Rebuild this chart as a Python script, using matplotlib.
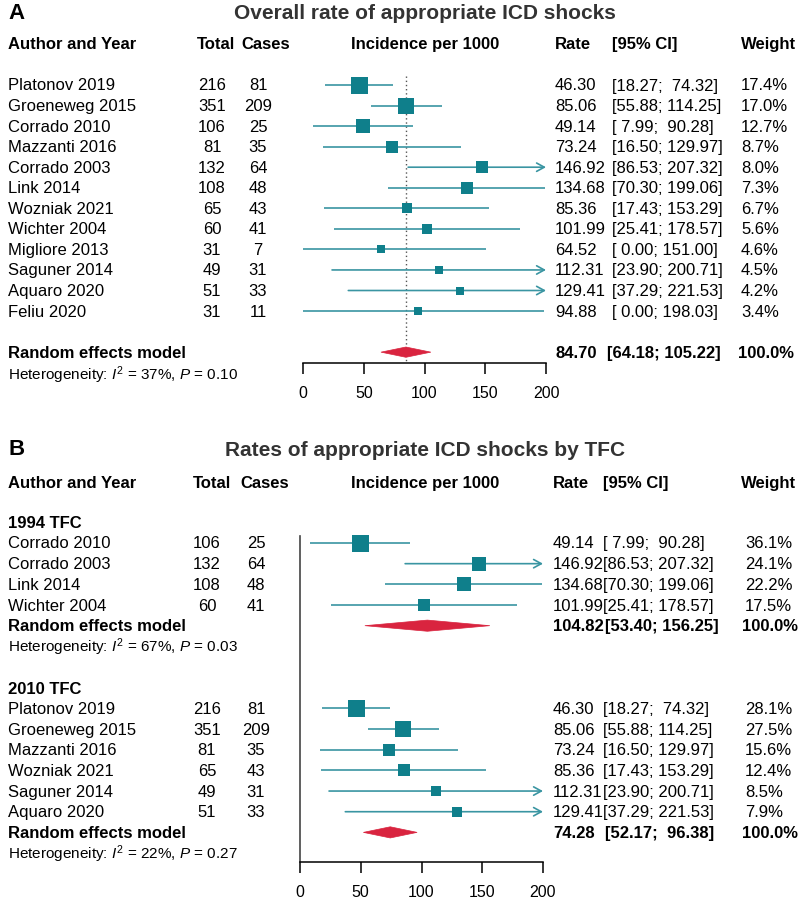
import matplotlib
matplotlib.use("Agg")
import matplotlib.pyplot as plt
from matplotlib.transforms import blended_transform_factory
from matplotlib.patches import Polygon
import numpy as np

plt.rcParams['font.family'] = ['Liberation Sans', 'DejaVu Sans']
plt.rcParams['mathtext.fontset'] = 'custom'
plt.rcParams['mathtext.rm'] = 'Liberation Sans'
plt.rcParams['mathtext.it'] = 'Liberation Sans:italic'
plt.rcParams['mathtext.bf'] = 'Liberation Sans:bold'

# ---------------- Data: panel A ----------------
a_authors = ["Platonov 2019", "Groeneweg 2015", "Corrado 2010", "Mazzanti 2016",
             "Corrado 2003", "Link 2014", "Wozniak 2021", "Wichter 2004",
             "Migliore 2013", "Saguner 2014", "Aquaro 2020", "Feliu 2020"]
a_total = [216, 351, 106, 81, 132, 108, 65, 60, 31, 49, 51, 31]
a_cases = [81, 209, 25, 35, 64, 48, 43, 41, 7, 31, 33, 11]
a_rate = [46.30, 85.06, 49.14, 73.24, 146.92, 134.68, 85.36, 101.99, 64.52, 112.31, 129.41, 94.88]
a_lower = [18.27, 55.88, 7.99, 16.50, 86.53, 70.30, 17.43, 25.41, 0.00, 23.90, 37.29, 0.00]
a_upper = [74.32, 114.25, 90.28, 129.97, 207.32, 199.06, 153.29, 178.57, 151.00, 200.71, 221.53, 198.03]
a_weight = [17.4, 17.0, 12.7, 8.7, 8.0, 7.3, 6.7, 5.6, 4.6, 4.5, 4.2, 3.4]
a_re = (84.70, 64.18, 105.22)
a_het = ("37%", "0.10")

# ---------------- Data: panel B ----------------
b1_authors = ["Corrado 2010", "Corrado 2003", "Link 2014", "Wichter 2004"]
b1_total = [106, 132, 108, 60]
b1_cases = [25, 64, 48, 41]
b1_rate = [49.14, 146.92, 134.68, 101.99]
b1_lower = [7.99, 86.53, 70.30, 25.41]
b1_upper = [90.28, 207.32, 199.06, 178.57]
b1_weight = [36.1, 24.1, 22.2, 17.5]
b1_re = (104.82, 53.40, 156.25)
b1_het = ("67%", "0.03")

b2_authors = ["Platonov 2019", "Groeneweg 2015", "Mazzanti 2016", "Wozniak 2021",
              "Saguner 2014", "Aquaro 2020"]
b2_total = [216, 351, 81, 65, 49, 51]
b2_cases = [81, 209, 35, 43, 31, 33]
b2_rate = [46.30, 85.06, 73.24, 85.36, 112.31, 129.41]
b2_lower = [18.27, 55.88, 16.50, 17.43, 23.90, 37.29]
b2_upper = [74.32, 114.25, 129.97, 153.29, 200.71, 221.53]
b2_weight = [28.1, 27.5, 15.6, 12.4, 8.5, 7.9]
b2_re = (74.28, 52.17, 96.38)
b2_het = ("22%", "0.27")

xticks = [0, 50, 100, 150, 200]
XMAX = 200

SQ = '#0f7f8b'
LN = '#3a95a2'
DM = '#d9243f'
FS = 12
W, H = 800, 903

fig = plt.figure(figsize=(W / 100, H / 100), dpi=100)


def make_axes(px_top, px_bot, row0_px, spacing, x0_px, x200_px):
    ax = fig.add_axes([0, 1 - px_bot / H, 1, (px_bot - px_top) / H])
    k = 200.0 / (x200_px - x0_px)
    ax.set_xlim((0 - x0_px) * k, (W - x0_px) * k)
    ax.set_ylim((px_bot - row0_px) / spacing, (px_top - row0_px) / spacing)
    ax.patch.set_alpha(0)
    for s in ['top', 'right', 'left']:
        ax.spines[s].set_visible(False)
    ax.set_yticks([])
    return ax


def axis_bottom(ax, row):
    ax.spines['bottom'].set_position(('data', row))
    ax.spines['bottom'].set_bounds(0, XMAX)
    ax.spines['bottom'].set_linewidth(1.1)
    ax.set_xticks(xticks)
    ax.set_xticklabels([str(t) for t in xticks])
    ax.tick_params(axis='x', direction='out', length=8, width=1.1, labelsize=11.5, pad=8)


def txt(ax, xpx, row, s, ha='left', bold=False, size=FS, color='black'):
    tr = blended_transform_factory(fig.transFigure, ax.transData)
    ax.text(xpx / W, row, s, transform=tr, ha=ha, va='center', fontsize=size,
            fontweight='bold' if bold else 'normal', color=color, clip_on=False)


def study(ax, row, lo, hi, est, w, wmax):
    if hi > XMAX:
        ax.annotate('', xy=(XMAX, row), xytext=(lo, row),
                    arrowprops=dict(arrowstyle='->,head_length=0.55,head_width=0.3',
                                    color=LN, lw=1.2, shrinkA=0, shrinkB=0,
                                    mutation_scale=10), zorder=2)
    else:
        ax.plot([lo, hi], [row, row], color=LN, lw=1.2, zorder=2, solid_capstyle='butt')
    side_px = 17.0 * np.sqrt(w / wmax)
    ax.plot([est], [row], marker='s', markersize=side_px * 0.72, color=SQ,
            markeredgewidth=0, zorder=3)


def diamond(ax, row, est, lo, hi, half_rows):
    poly = Polygon([[lo, row], [est, row - half_rows], [hi, row], [est, row + half_rows]],
                   closed=True, facecolor=DM, edgecolor=DM, lw=0.5, zorder=4)
    ax.add_patch(poly)


def cols_row(ax, row, author, total, cases, rate, lo, hi, w, cfg, bold=False):
    txt(ax, 8, row, author, bold=bold)
    if total is not None:
        txt(ax, cfg['tot'], row, str(total), ha='center')
        txt(ax, cfg['cas'], row, str(cases), ha='center')
    txt(ax, cfg['rate'], row, f"{rate:.2f}", bold=bold)
    txt(ax, cfg['bci'] if bold else cfg['ci'], row, f"[{lo:5.2f}; {hi:6.2f}]", bold=bold)
    txt(ax, cfg['w'] - (3 if bold else 0), row, f"{w:.1f}%", bold=bold)


def headers(ax, row, cfg):
    txt(ax, 8, row, "Author and Year", bold=True)
    txt(ax, cfg['htot'], row, "Total", bold=True)
    txt(ax, cfg['hcas'], row, "Cases", bold=True)
    txt(ax, 425, row, "Incidence per 1000", ha='center', bold=True)
    txt(ax, cfg['rate'], row, "Rate", bold=True)
    txt(ax, cfg['hci'], row, "[95% CI]", bold=True)
    txt(ax, cfg['hw'], row, "Weight", bold=True)


def het(ax, row, i2, p):
    txt(ax, 8, row, r"Heterogeneity: $I^2$ = " + i2 + r", $P$ = " + p, size=11)


# ================= Panel A =================
cfgA = dict(tot=212, cas=258, rate=555, ci=612, bci=607, w=741,
            htot=197, hcas=241, hci=612, hw=741)
axA = make_axes(0, 420, 86, 20.55, 303, 546)
txt(axA, 8, -3.55, "A", bold=True, size=16)
txt(axA, 425, -3.55, "Overall rate of appropriate ICD shocks", ha='center', bold=True,
    size=15, color='#333333')
headers(axA, -2.0, cfgA)
wmaxA = max(a_weight)
for i in range(len(a_authors)):
    cols_row(axA, i, a_authors[i], a_total[i], a_cases[i], a_rate[i], a_lower[i],
             a_upper[i], a_weight[i], cfgA)
    study(axA, i, a_lower[i], a_upper[i], a_rate[i], a_weight[i], wmaxA)
reA = len(a_authors) + 1
axis_rowA = reA + 0.53
axA.plot([a_re[0], a_re[0]], [-0.45, axis_rowA], color='#555555', lw=1.0,
         linestyle=(0, (1, 2)), zorder=1)
diamond(axA, reA, *a_re, 0.25)
cols_row(axA, reA, "Random effects model", None, None, a_re[0], a_re[1], a_re[2], 100.0,
         cfgA, bold=True)
het(axA, reA + 1.07, *a_het)
axis_bottom(axA, axis_rowA)

# ================= Panel B =================
cfgB = dict(tot=207, cas=256, rate=553, ci=603, bci=605, w=745,
            htot=193, hcas=240, hci=603, hw=741)
axB = make_axes(430, 903, 544, 20.67, 300, 543)
txt(axB, 8, -4.55, "B", bold=True, size=16)
txt(axB, 425, -4.5, "Rates of appropriate ICD shocks by TFC", ha='center', bold=True,
    size=15, color='#333333')
headers(axB, -2.95, cfgB)

txt(axB, 8, -0.97, "1994 TFC", bold=True)
wmax1 = max(b1_weight)
for i in range(len(b1_authors)):
    cols_row(axB, i, b1_authors[i], b1_total[i], b1_cases[i], b1_rate[i], b1_lower[i],
             b1_upper[i], b1_weight[i], cfgB)
    study(axB, i, b1_lower[i], b1_upper[i], b1_rate[i], b1_weight[i], wmax1)
re1 = len(b1_authors)
diamond(axB, re1, *b1_re, 0.27)
cols_row(axB, re1, "Random effects model", None, None, b1_re[0], b1_re[1], b1_re[2], 100.0,
         cfgB, bold=True)
het(axB, re1 + 1.0, *b1_het)

start2 = re1 + 4
txt(axB, 8, start2 - 0.97, "2010 TFC", bold=True)
wmax2 = max(b2_weight)
for i in range(len(b2_authors)):
    r = start2 + i
    cols_row(axB, r, b2_authors[i], b2_total[i], b2_cases[i], b2_rate[i], b2_lower[i],
             b2_upper[i], b2_weight[i], cfgB)
    study(axB, r, b2_lower[i], b2_upper[i], b2_rate[i], b2_weight[i], wmax2)
re2 = start2 + len(b2_authors)
diamond(axB, re2, *b2_re, 0.27)
cols_row(axB, re2, "Random effects model", None, None, b2_re[0], b2_re[1], b2_re[2], 100.0,
         cfgB, bold=True)
het(axB, re2 + 1.0, *b2_het)

axis_rowB = re2 + 1.43
axis_bottom(axB, axis_rowB)
axB.spines['left'].set_visible(True)
axB.spines['left'].set_position(('data', 0))
axB.spines['left'].set_bounds(-0.35, axis_rowB)
axB.spines['left'].set_color('#444444')
axB.spines['left'].set_linewidth(1.2)

fig.savefig("out.png", dpi=100)
